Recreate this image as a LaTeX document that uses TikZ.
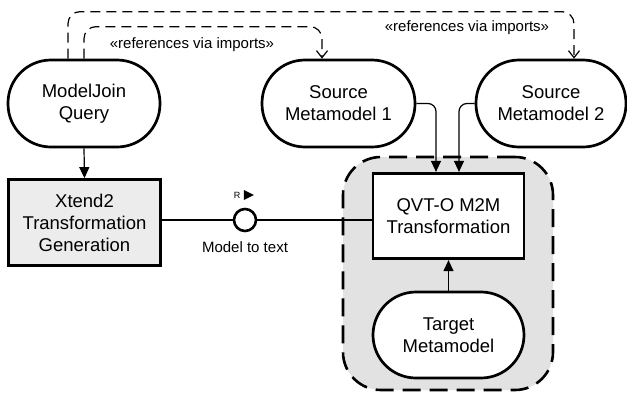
\documentclass[tikz,border=0pt]{standalone}
\usepackage{fontspec}
\setmainfont{Liberation Sans}
\usetikzlibrary{arrows.meta,calc}
\definecolor{regiongray}{RGB}{226,226,226}
\definecolor{boxgray}{RGB}{236,236,236}
\begin{document}
\begin{tikzpicture}[x=1pt,y=-1pt,
  every node/.style={font=\fontsize{18.5}{22}\selectfont, align=center, inner sep=0pt},
  stadium/.style={draw, line width=2.7pt, rounded corners=43pt, fill=white, minimum height=87pt},
  boxnode/.style={draw, line width=2.7pt, minimum height=86pt, minimum width=152pt},
  region/.style={draw, fill=regiongray, line width=2.6pt, dash pattern=on 18pt off 9pt, rounded corners=38pt, minimum width=210pt, minimum height=233pt},
  conn/.style={line width=1.2pt},
  arr/.style={conn, -{Triangle[length=11pt,width=10pt]}},
  dep/.style={line width=1.2pt, dash pattern=on 10pt off 6pt, -{Straight Barb[length=7pt,width=11pt,line width=1.2pt]}, rounded corners=12pt},
  lbl/.style={font=\fontsize{15}{18}\selectfont}
]
\useasboundingbox (0,0) rectangle (627,394);

% container region
\node[region] (reg) at (448,273.5) {};

% nodes
\node[stadium, minimum width=152pt] (mj) at (84,103.5) {ModelJoin\\Query};
\node[stadium, minimum width=153pt] (s1) at (338.5,103.5) {Source\\Metamodel 1};
\node[stadium, minimum width=150pt] (s2) at (551,103.5) {Source\\Metamodel 2};
\node[boxnode, fill=boxgray] (xt) at (84.5,222.5) {Xtend2\\Transformation\\Generation};
\node[boxnode, fill=white, minimum width=151pt, minimum height=85.5pt] (qvt) at (448.5,216) {QVT-O M2M\\Transformation};
\node[stadium, minimum width=151pt, minimum height=86pt] (tg) at (448.5,335) {Target\\Metamodel};

% model-to-text port
\node[circle, draw, line width=2.6pt, fill=white, minimum size=22pt] (c) at (245,220) {};
\node[font=\fontsize{9}{10}\selectfont] (r) at (237,195) {R};
\fill ($(r.east)+(3.5,-5)$) -- ++(10,5) -- ++(-10,5) -- cycle;
\node[lbl] (m2t) at (245,247) {Model to text};

% connectors
\draw[arr] (mj.south) -- (xt.north);
\draw[conn] (xt.east |- c.west) -- (c.west);
\draw[conn] (c.east) -- (qvt.west |- c.east);
\draw[arr, rounded corners=8pt] (s1.east) -| ([xshift=-12.5pt]qvt.north);
\draw[arr, rounded corners=8pt] (s2.west) -| ([xshift=10.5pt]qvt.north);
\draw[arr] (tg.north) -- (qvt.south);

% dependencies
\draw[dep] ([xshift=-16pt]mj.north) -- ++(0,-47) -| ([xshift=23pt]s2.north);
\draw[dep] (mj.north) -- ++(0,-32) -| ([xshift=-16.5pt]s1.north);
\node[lbl] (l1) at (192,45) {«references via imports»};
\node[lbl] (l2) at (467,28) {«references via imports»};
\end{tikzpicture}
\end{document}
